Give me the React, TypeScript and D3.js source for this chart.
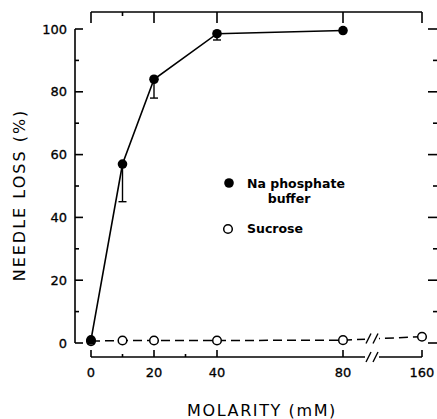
import React from "react";
import * as d3 from "d3";

// Na phosphate buffer (filled circles)
const naMolarity = [0, 10, 20, 40, 80];
const naLoss = [1, 57, 84, 98.5, 99.5];
const naErr = [0, 12, 6, 2, 0]; // lower error bar length (%)

// Sucrose (open circles)
const sucMolarity = [0, 10, 20, 40, 80, 160];
const sucLoss = [0.6, 0.8, 0.8, 0.8, 0.9, 2];

const xTicks = [0, 20, 40, 80, 160];
const xMinor = [10, 30];
const yTicks = [0, 20, 40, 60, 80, 100];
const yMinor = [10, 30, 50, 70, 90];

const W = 437;
const H = 419;

export default function App() {
  // broken x axis: 0-80 linear, then jump to 160
  const x = d3.scaleLinear().domain([0, 80, 160]).range([91, 343, 422]);
  const y = d3.scaleLinear().domain([0, 100]).range([343, 29]);

  const axisLeftX = 75;
  const axisRightX = 438;
  const axisBottomY = 357;
  const axisTopY = 12;
  const breakX0 = 365;
  const breakX1 = 379;

  const naLine = d3
    .line<number>()
    .x((d, i) => x(naMolarity[i]))
    .y((d) => y(d));
  const sucLine = d3
    .line<number>()
    .x((d, i) => x(sucMolarity[i]))
    .y((d) => y(d));

  const font = "'DejaVu Sans', sans-serif";
  const sw = 1.6;

  const slashes = (cx: number, cy: number) => (
    <g stroke="#000" strokeWidth={1.4}>
      <line x1={cx - 6} y1={cy + 5} x2={cx - 1} y2={cy - 5} />
      <line x1={cx + 1} y1={cy + 5} x2={cx + 6} y2={cy - 5} />
    </g>
  );

  return (
    <svg
      width={W}
      height={H}
      style={{ position: "absolute", left: 0, top: 0, background: "#fff" }}
    >
      <rect width={W} height={H} fill="#fff" />

      {/* left axis */}
      <g stroke="#000" strokeWidth={sw}>
        <line x1={axisLeftX} y1={y(100)} x2={axisLeftX} y2={y(0)} />
        {yTicks.map((t) => (
          <line key={t} x1={axisLeftX} x2={axisLeftX + 8} y1={y(t)} y2={y(t)} />
        ))}
        {yMinor.map((t) => (
          <line key={t} x1={axisLeftX} x2={axisLeftX + 4} y1={y(t)} y2={y(t)} />
        ))}
      </g>
      {yTicks.map((t) => (
        <text
          key={t}
          x={67}
          y={y(t) + 4.5}
          textAnchor="end"
          fontFamily={font}
          fontSize={13}
          stroke="#000"
          strokeWidth={0.3}
        >
          {t}
        </text>
      ))}

      {/* right axis (ticks only visible) */}
      <g stroke="#000" strokeWidth={sw}>
        <line x1={axisRightX} y1={y(100)} x2={axisRightX} y2={y(0)} />
        {yTicks.map((t) => (
          <line key={t} x1={axisRightX} x2={axisRightX - 10} y1={y(t)} y2={y(t)} />
        ))}
        {yMinor.map((t) => (
          <line key={t} x1={axisRightX} x2={axisRightX - 5} y1={y(t)} y2={y(t)} />
        ))}
      </g>

      {/* bottom axis with break */}
      <g stroke="#000" strokeWidth={sw}>
        <line x1={x(0)} x2={breakX0} y1={axisBottomY} y2={axisBottomY} />
        <line x1={breakX1} x2={x(160)} y1={axisBottomY} y2={axisBottomY} />
        {xTicks.map((t) => (
          <line key={t} x1={x(t)} x2={x(t)} y1={axisBottomY} y2={axisBottomY - 7} />
        ))}
        {xMinor.map((t) => (
          <line key={t} x1={x(t)} x2={x(t)} y1={axisBottomY} y2={axisBottomY - 3} />
        ))}
      </g>
      {slashes((breakX0 + breakX1) / 2, axisBottomY)}
      {xTicks.map((t) => (
        <text
          key={t}
          x={x(t)}
          y={377}
          textAnchor="middle"
          fontFamily={font}
          fontSize={13}
          stroke="#000"
          strokeWidth={0.3}
        >
          {t}
        </text>
      ))}

      {/* top axis */}
      <g stroke="#000" strokeWidth={sw}>
        <line x1={x(0)} x2={x(160)} y1={axisTopY} y2={axisTopY} />
        {xTicks.map((t) => (
          <line key={t} x1={x(t)} x2={x(t)} y1={axisTopY} y2={axisTopY + 11} />
        ))}
        {xMinor.slice(0, 1).map((t) => (
          <line key={t} x1={x(t)} x2={x(t)} y1={axisTopY} y2={axisTopY + 4} />
        ))}
      </g>

      {/* axis titles */}
      <text
        x={262}
        y={416}
        textAnchor="middle"
        fontFamily={font}
        fontSize={16}
        letterSpacing={1.6}
      >
        MOLARITY (mM)
      </text>
      <text
        transform={`translate(25,195) rotate(-90)`}
        textAnchor="middle"
        fontFamily={font}
        fontSize={16}
        letterSpacing={2}
      >
        NEEDLE LOSS (%)
      </text>

      {/* sucrose dashed line with break */}
      <path
        d={sucLine(sucLoss) ?? ""}
        fill="none"
        stroke="#000"
        strokeWidth={1.5}
        strokeDasharray="9,5"
      />
      <rect x={breakX0} y={y(sucLoss[5]) - 8} width={breakX1 - breakX0} height={16} fill="#fff" />
      {slashes((breakX0 + breakX1) / 2, (y(sucLoss[4]) + y(sucLoss[5])) / 2)}

      {/* Na phosphate solid line */}
      <path d={naLine(naLoss) ?? ""} fill="none" stroke="#000" strokeWidth={1.6} />

      {/* error bars */}
      <g stroke="#000" strokeWidth={1.4}>
        {naLoss.map((v, i) =>
          naErr[i] > 0 ? (
            <g key={i}>
              <line x1={x(naMolarity[i])} x2={x(naMolarity[i])} y1={y(v)} y2={y(v - naErr[i])} />
              <line
                x1={x(naMolarity[i]) - 4}
                x2={x(naMolarity[i]) + 4}
                y1={y(v - naErr[i])}
                y2={y(v - naErr[i])}
              />
            </g>
          ) : null
        )}
      </g>

      {/* sucrose points */}
      {sucLoss.map((v, i) => (
        <circle
          key={i}
          cx={x(sucMolarity[i])}
          cy={y(v)}
          r={4.3}
          fill="#fff"
          stroke="#000"
          strokeWidth={1.5}
        />
      ))}
      {/* Na phosphate points */}
      {naLoss.map((v, i) => (
        <circle key={i} cx={x(naMolarity[i])} cy={y(v)} r={4.8} fill="#000" />
      ))}

      {/* legend */}
      <circle cx={229} cy={183} r={4.8} fill="#000" />
      <text x={247} y={188} fontFamily={font} fontSize={12.5} fontWeight="bold">
        Na phosphate
      </text>
      <text x={289} y={203} textAnchor="middle" fontFamily={font} fontSize={12.5} fontWeight="bold">
        buffer
      </text>
      <circle cx={228} cy={229} r={4.3} fill="#fff" stroke="#000" strokeWidth={1.5} />
      <text x={247} y={233} fontFamily={font} fontSize={12.5} fontWeight="bold">
        Sucrose
      </text>
    </svg>
  );
}
